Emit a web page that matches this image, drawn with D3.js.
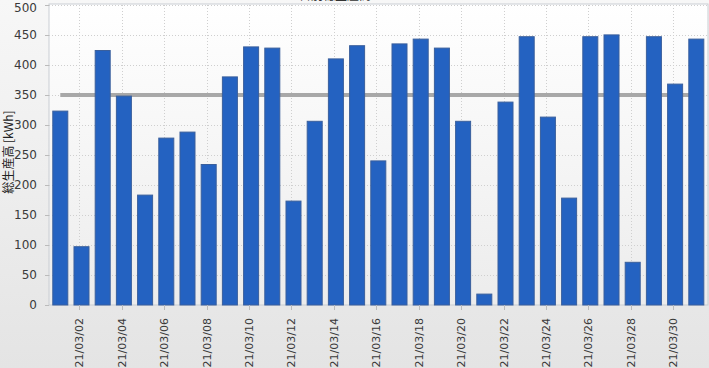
<!DOCTYPE html>
<html>
<head>
<meta charset="utf-8">
<script src="https://cdn.jsdelivr.net/npm/d3@7"></script>
<style>
  body { margin: 0; }
  svg { display: block; font-family: "Noto Sans CJK JP", "DejaVu Sans", sans-serif; }
</style>
</head>
<body>
<div id="chart"></div>
<script>
// daily values (kWh)
var days = ["21/03/01","21/03/02","21/03/03","21/03/04","21/03/05","21/03/06","21/03/07","21/03/08",
            "21/03/09","21/03/10","21/03/11","21/03/12","21/03/13","21/03/14","21/03/15","21/03/16",
            "21/03/17","21/03/18","21/03/19","21/03/20","21/03/21","21/03/22","21/03/23","21/03/24",
            "21/03/25","21/03/26","21/03/27","21/03/28","21/03/29","21/03/30","21/03/31"];
var output = [324, 98, 425, 349, 184, 279, 289, 235, 381, 431, 429, 174, 307, 411, 433, 241,
              436, 444, 429, 307, 19, 339, 448, 314, 179, 448, 451, 72, 448, 369, 444];
var target = [350, 350, 350, 350, 350, 350, 350, 350, 350, 350, 350, 350, 350, 350, 350, 350,
              350, 350, 350, 350, 350, 350, 350, 350, 350, 350, 350, 350, 350, 350, 350];
var yTicks = [0, 50, 100, 150, 200, 250, 300, 350, 400, 450, 500];
var titleText = "日別総生産高";
var yLabel = "総生産高 [kWh]";

var W = 709, H = 368;
var plot = {left: 49, right: 708, top: 5, bottom: 305};

var svg = d3.select("#chart").append("svg")
    .attr("width", W)
    .attr("height", H);

var defs = svg.append("defs");
var bgGrad = defs.append("linearGradient").attr("id", "bg")
    .attr("x1", 0).attr("y1", 0).attr("x2", 0).attr("y2", 1);
bgGrad.append("stop").attr("offset", "0%").attr("stop-color", "#f7f7f7");
bgGrad.append("stop").attr("offset", "100%").attr("stop-color", "#e4e4e4");
var plotGrad = defs.append("linearGradient").attr("id", "plotbg")
    .attr("x1", 0).attr("y1", 0).attr("x2", 0).attr("y2", 1);
plotGrad.append("stop").attr("offset", "0%").attr("stop-color", "#ffffff");
plotGrad.append("stop").attr("offset", "100%").attr("stop-color", "#ececec");

svg.append("rect").attr("width", W).attr("height", H).attr("fill", "url(#bg)");

// title: only its lower edge shows at the top of the picture
svg.append("text")
    .attr("x", 335).attr("y", -0.5)
    .attr("text-anchor", "middle")
    .attr("font-size", 12)
    .attr("fill", "#333")
    .text(titleText);

svg.append("rect")
    .attr("x", plot.left).attr("y", plot.top - 1)
    .attr("width", plot.right - plot.left).attr("height", plot.bottom - plot.top + 1)
    .attr("fill", "url(#plotbg)")
    .attr("stroke", "#c9ced3");

var x = d3.scaleBand()
    .domain(days)
    .range([plot.left, 707.6])
    .paddingInner(0.245)
    .paddingOuter(0.155);

var y = d3.scaleLinear()
    .domain([0, 500])
    .range([plot.bottom, plot.top]);

// grid
svg.append("g")
    .selectAll("line")
    .data(yTicks.slice(1))
    .enter()
    .append("line")
    .attr("x1", plot.left).attr("x2", plot.right)
    .attr("y1", function (d) { return y(d) + 0.5; })
    .attr("y2", function (d) { return y(d) + 0.5; })
    .attr("stroke", "#cfcfcf")
    .attr("stroke-dasharray", "1,2");

var tickDays = days.filter(function (d, i) { return i % 2 == 1; });
svg.append("g")
    .selectAll("line")
    .data(tickDays)
    .enter()
    .append("line")
    .attr("x1", function (d) { return Math.round(x(d) + x.bandwidth() / 2) - 1.5; })
    .attr("x2", function (d) { return Math.round(x(d) + x.bandwidth() / 2) - 1.5; })
    .attr("y1", plot.top).attr("y2", plot.bottom)
    .attr("stroke", "#cfcfcf")
    .attr("stroke-dasharray", "1,2");

// target line at 350 (behind the bars)
var line = d3.line()
    .x(function (d, i) { return x(days[i]) + x.bandwidth() / 2; })
    .y(function (d) { return y(d); });
svg.append("path")
    .datum(target)
    .attr("d", line)
    .attr("fill", "none")
    .attr("stroke", "#a8a8a8")
    .attr("stroke-width", 4);

// bars
svg.append("g")
    .selectAll("rect")
    .data(output)
    .enter()
    .append("rect")
    .attr("x", function (d, i) { return x(days[i]) + 0.5; })
    .attr("y", function (d) { return y(d) + 0.5; })
    .attr("width", x.bandwidth() - 1)
    .attr("height", function (d) { return plot.bottom - y(d) - 0.5; })
    .attr("fill", "#2462c1")
    .attr("stroke", "#3a5f9c")
    .attr("stroke-width", 1);

// y axis
var yAxis = svg.append("g")
    .attr("transform", "translate(" + plot.left + ",0)")
    .call(d3.axisLeft(y).tickValues(yTicks).tickSize(4).tickPadding(8));
yAxis.select(".domain").remove();
yAxis.selectAll("line").attr("stroke", "#bbbbbb");
yAxis.selectAll("text")
    .attr("font-size", 12)
    .attr("fill", "#3a3a3a")
    .style("font-family", "'DejaVu Sans', sans-serif");
// keep the top label inside the picture
yAxis.selectAll("text").filter(function (d) { return d == 500; }).attr("dy", "0.5em");

// x axis
var xAxis = svg.append("g")
    .attr("transform", "translate(0," + plot.bottom + ")")
    .call(d3.axisBottom(x).tickValues(tickDays).tickSize(5).tickPadding(4));
xAxis.select(".domain").remove();
xAxis.selectAll(".tick").attr("transform", function (d) {
    return "translate(" + (Math.round(x(d) + x.bandwidth() / 2) - 1.5) + ",0)";
});
xAxis.selectAll("line").attr("stroke", "#bbbbbb");
xAxis.selectAll("text")
    .attr("font-size", 11)
    .attr("fill", "#3a3a3a")
    .style("font-family", "'DejaVu Sans', sans-serif")
    .attr("transform", "rotate(-90)")
    .attr("x", -13)
    .attr("y", 0)
    .attr("dy", "0.35em")
    .attr("text-anchor", "end");

svg.append("text")
    .attr("transform", "translate(13,152) rotate(-90)")
    .attr("text-anchor", "middle")
    .attr("font-size", 12)
    .attr("fill", "#222")
    .text(yLabel);
</script>
</body>
</html>
